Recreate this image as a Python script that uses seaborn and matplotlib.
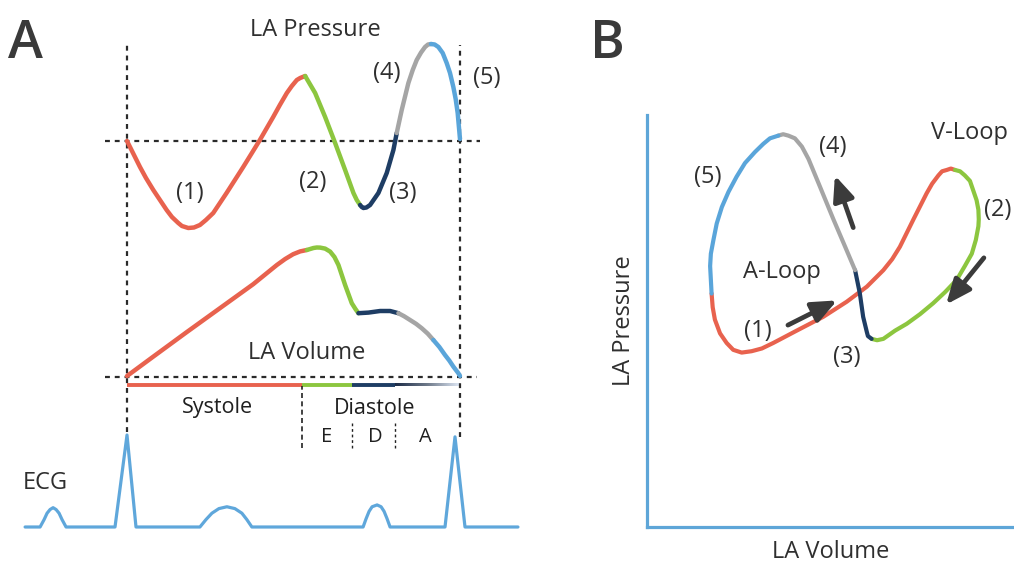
import numpy as np
import pandas as pd
import matplotlib
matplotlib.use('Agg')
import matplotlib.pyplot as plt
import seaborn as sns
from matplotlib.colors import LinearSegmentedColormap

# phases of the LA cycle, same colours in both panels
PHASES = ['reservoir', 'conduit', 'diastasis', 'booster', 'late']
PHASE_COLORS = ['#e8624e', '#8cc63f', '#1e3d64', '#a5a5a5', '#5aa5da']

# LA pressure over one cycle (t = fraction of cycle, mmHg)
press_t = [0.000, 0.018, 0.039, 0.057, 0.079, 0.099, 0.119, 0.135, 0.154, 0.165, 0.184, 0.201, 0.219, 0.237,
           0.259, 0.279, 0.299, 0.349, 0.375, 0.399, 0.439, 0.459, 0.480, 0.495, 0.510, 0.520, 0.535,
           0.535, 0.565, 0.595, 0.625, 0.655, 0.680, 0.690, 0.700,
           0.700, 0.705, 0.710, 0.719, 0.730, 0.755, 0.780, 0.800, 0.810,
           0.810, 0.825, 0.845, 0.858, 0.870, 0.883, 0.895, 0.904, 0.913,
           0.913, 0.924, 0.935, 0.948, 0.960, 0.970, 0.980, 0.987, 0.993, 1.000]
press_mmhg = [12.0, 10.8, 9.4, 8.3, 7.1, 6.1, 5.1, 4.4, 3.8, 3.5, 3.3, 3.35, 3.6, 4.1,
              4.8, 5.8, 6.8, 9.4, 10.8, 12.1, 14.4, 15.6, 16.8, 17.5, 18.1, 18.3, 18.5,
              18.5, 16.8, 14.4, 11.8, 9.1, 6.8, 6.1, 5.6,
              5.6, 5.4, 5.3, 5.35, 5.6, 6.8, 8.8, 11.1, 12.8,
              12.8, 15.1, 17.8, 19.1, 20.1, 20.85, 21.4, 21.65, 21.7,
              21.7, 21.65, 21.4, 20.8, 19.8, 18.8, 17.4, 16.2, 14.8, 12.2]
press_phase_len = [27, 8, 9, 9, 10]

# LA volume over one cycle (mL)
vol_t = [0.000, 0.079, 0.179, 0.279, 0.379, 0.450, 0.475, 0.499, 0.520, 0.540,
         0.540, 0.560, 0.570, 0.580, 0.595, 0.610, 0.623, 0.635, 0.655, 0.675, 0.686, 0.695,
         0.695, 0.725, 0.760, 0.790, 0.815,
         0.815, 0.832, 0.850, 0.868, 0.885, 0.903, 0.920,
         0.920, 0.938, 0.955, 0.968, 0.980, 0.995, 1.000]
vol_ml = [20.5, 30.2, 42.4, 54.4, 66.4, 76.0, 79.0, 81.4, 82.8, 83.5,
          83.5, 84.5, 84.75, 84.7, 84.2, 82.7, 80.0, 76.0, 66.0, 56.9, 54.0, 51.9,
          51.9, 52.2, 53.0, 53.0, 51.9,
          51.9, 50.4, 48.5, 46.6, 44.4, 41.7, 38.5,
          38.5, 35.0, 31.0, 28.2, 25.2, 21.9, 20.5]
vol_phase_len = [10, 12, 5, 7, 7]

# ECG (mV)
ecg_t = [-0.306, -0.261, -0.249, -0.240, -0.231, -0.222, -0.213, -0.204, -0.195, -0.183,
         -0.036, 0.000, 0.027,
         0.219, 0.237, 0.255, 0.276, 0.300, 0.324, 0.345, 0.360, 0.375,
         0.709, 0.718, 0.727, 0.736, 0.751, 0.763, 0.772, 0.781, 0.790,
         0.955, 0.985, 1.015, 1.174]
ecg_mv = [0, 0, 0.08, 0.15, 0.19, 0.21, 0.19, 0.15, 0.08, 0,
          0, 1.0, 0,
          0, 0.08, 0.15, 0.20, 0.22, 0.20, 0.15, 0.08, 0,
          0, 0.09, 0.17, 0.22, 0.24, 0.22, 0.17, 0.09, 0,
          0, 0.98, 0, 0]

# pressure-volume loop (mL, mmHg)
loop_vol = [17.6, 17.9, 18.5, 19.9, 21.7, 23.5, 25.8, 28.5, 31.3, 34.4, 40.8, 48.0, 54.4, 59.9, 64.4, 66.8,
            68.9, 72.6, 76.2, 77.7, 79.4, 80.4, 81.7, 82.8, 83.9,
            83.9, 85.3, 86.6, 88.0, 88.9, 89.8, 90.3, 90.4, 90.3, 89.6, 88.5, 86.6, 84.4, 81.2, 78.0, 74.4,
            70.8, 67.6, 64.4, 62.7, 61.2,
            61.2, 60.2, 59.9, 58.9, 58.0, 56.7,
            56.7, 54.0, 50.8, 47.1, 44.0, 42.2, 40.3, 38.5, 37.1, 35.8,
            35.8, 33.5, 31.7, 29.4, 26.7, 24.4, 22.2, 20.4, 19.0, 18.1, 17.4, 17.2, 17.4, 17.6]
loop_press = [17.0, 16.0, 15.1, 14.1, 13.4, 12.9, 12.7, 12.8, 13.0, 13.4, 14.3, 15.3, 16.4, 17.5, 18.7, 19.5,
              20.4, 22.4, 24.3, 25.0, 25.6, 25.9, 26.0, 26.1, 26.0,
              26.0, 25.9, 25.6, 25.2, 24.5, 23.8, 23.1, 22.4, 21.9, 20.9, 19.9, 19.0, 18.0, 17.1, 16.3, 15.5,
              14.8, 14.3, 13.7, 13.6, 13.7,
              13.7, 13.9, 14.2, 15.3, 17.0, 18.7,
              18.7, 20.4, 22.4, 24.8, 26.8, 27.7, 28.3, 28.5, 28.6, 28.5,
              28.5, 28.3, 27.9, 27.3, 26.5, 25.5, 24.4, 23.3, 22.1, 20.9, 19.9, 19.0, 18.0, 17.0]
loop_phase_len = [25, 21, 6, 10, 14]

# systole / diastole bar (fraction of cycle)
bar_edges = [0.0, 0.526, 0.676, 0.805, 1.0]

TXT = '#2f2f2f'
sns.set_theme(style='white')
plt.rcParams['font.family'] = ['Open Sans', 'DejaVu Sans']

fig = plt.figure(figsize=(10.14, 5.65), dpi=100)
palette = dict(zip(PHASES, PHASE_COLORS))


def draw_trace(ax, x, y, lens, lw):
    df = pd.DataFrame({'x': x, 'y': y, 'phase': np.repeat(PHASES, lens)})
    sns.lineplot(data=df, x='x', y='y', hue='phase', palette=palette, sort=False,
                 estimator=None, legend=False, lw=lw, ax=ax,
                 solid_capstyle='round', solid_joinstyle='round')


# ---------------- Panel A ----------------
axA = fig.add_axes([0, 0, 540 / 1014, 1])
# vertical layout of the stacked traces
P_BASE, P_REF, P_SCALE = 424, 12, 10
V_BASE, V_REF, V_SCALE = 188, 20, 2
E_BASE, E_SCALE = 38, 92

dash = dict(color='#2a2a2a', lw=1.6, linestyle=(0, (2.2, 2.2)))
axA.plot([-0.066, 1.06], [P_BASE, P_BASE], **dash)
axA.plot([-0.066, 1.051], [V_BASE, V_BASE], **dash)
axA.plot([0, 0], [133, 520], **dash)
axA.plot([1, 1], [128, 520], **dash)

draw_trace(axA, press_t, P_BASE + P_SCALE * (np.array(press_mmhg) - P_REF), press_phase_len, 3.2)
draw_trace(axA, vol_t, V_BASE + V_SCALE * (np.array(vol_ml) - V_REF), vol_phase_len, 3.2)
sns.lineplot(x=ecg_t, y=E_BASE + E_SCALE * np.array(ecg_mv), sort=False, estimator=None,
             color='#5fa7db', lw=2.3, ax=axA, solid_joinstyle='round')

bar_y = 180
for i in range(3):
    axA.plot(bar_edges[i:i + 2], [bar_y, bar_y], color=PHASE_COLORS[i], lw=2.8, solid_capstyle='butt')
grad = LinearSegmentedColormap.from_list('fade', ['#1c2c48', '#6f7a8a', '#dfe8f6'])
axA.imshow(np.linspace(0, 1, 200).reshape(1, -1), cmap=grad, aspect='auto',
           extent=[bar_edges[3], bar_edges[4], bar_y - 1.4, bar_y + 1.4])

axA.plot([bar_edges[1]] * 2, [117, 179], color='#222222', lw=1.2, linestyle=(0, (3, 2)))
axA.plot([bar_edges[2]] * 2, [117, 143], color='#222222', lw=1.0, linestyle=(0, (2, 2)))
axA.plot([bar_edges[3]] * 2, [117, 143], color='#222222', lw=1.0, linestyle=(0, (2, 2)))

axA.text(0.565, 535, 'LA Pressure', fontsize=17, color=TXT, ha='center', va='center')
axA.text(0.541, 212, 'LA Volume', fontsize=17, color=TXT, ha='center', va='center')
for lab, tx, ty in zip(['(1)', '(2)', '(3)', '(4)', '(5)'],
                       [0.189, 0.559, 0.829, 0.781, 1.081], [372, 383, 372, 492, 487]):
    axA.text(tx, ty, lab, fontsize=17, color=TXT, ha='center', va='center')
axA.text(0.273, 157, 'Systole', fontsize=15.5, color='#1f1f1f', ha='center', va='center')
axA.text(0.745, 157, 'Diastole', fontsize=15.5, color='#1f1f1f', ha='center', va='center')
for lab, tx in zip(['E', 'D', 'A'], [0.598, 0.745, 0.895]):
    axA.text(tx, 128, lab, fontsize=14.5, color='#1f1f1f', ha='center', va='center')
axA.text(-0.246, 82, 'ECG', fontsize=17, color=TXT, ha='center', va='center')

axA.set_xlim(-127 / 333, 413 / 333)
axA.set_ylim(0, 565)
axA.axis('off')

# ---------------- Panel B ----------------
axB = fig.add_axes([647 / 1014, 38 / 565, 367 / 1014, 412 / 565])
draw_trace(axB, loop_vol, loop_press, loop_phase_len, 3.0)

arrow = dict(arrowstyle='-|>,head_length=0.75,head_width=0.32', lw=3.4, color='#3b3b3b',
             shrinkA=0, shrinkB=0, mutation_scale=20)
for tail, head in [((38.4, 14.7), (51.8, 16.5)), ((56.2, 21.8), (51.2, 25.6)), ((91.8, 19.6), (81.5, 16.2))]:
    axB.annotate('', xy=head, xytext=tail, arrowprops=arrow)

for lab, lx, ly in [('(5)', 16.6, 25.5), ('(4)', 50.7, 27.7), ('V-Loop', 88.0, 28.7),
                    ('A-Loop', 36.8, 18.6), ('(1)', 30.2, 14.3), ('(3)', 54.5, 12.4)]:
    axB.text(lx, ly, lab, fontsize=17, color=TXT, ha='center', va='center')
axB.text(91.8, 23.1, '(2)', fontsize=17, color=TXT, ha='left', va='center')

axB.set_xlim(0, 100)
axB.set_ylim(0, 30)
axB.set_xticks([])
axB.set_yticks([])
sns.despine(ax=axB)
for s in ['left', 'bottom']:
    axB.spines[s].set_color('#5ea6d8')
    axB.spines[s].set_linewidth(2.3)
axB.patch.set_alpha(0)
axB.set_xlabel('LA Volume', fontsize=17, color=TXT, labelpad=9)
axB.set_ylabel('LA Pressure', fontsize=17, color=TXT, labelpad=8)

fig.text(25 / 1014, 1 - 45 / 565, 'A', fontsize=38, color='#3a3a3a', fontweight='semibold', ha='center', va='center')
fig.text(607 / 1014, 1 - 45 / 565, 'B', fontsize=38, color='#3a3a3a', fontweight='semibold', ha='center', va='center')

plt.savefig('out.png', dpi=100)
plt.close()
